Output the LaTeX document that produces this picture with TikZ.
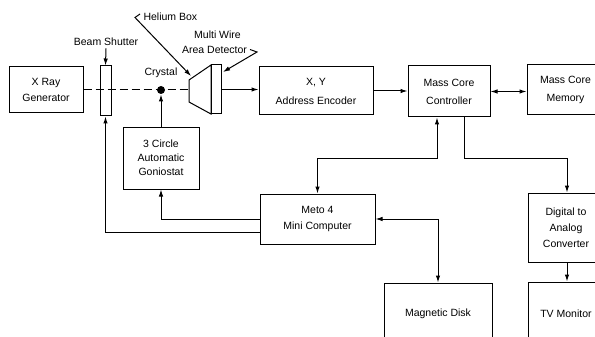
\documentclass[tikz,border=0pt]{standalone}
\usepackage{fontspec}
\setmainfont{Liberation Sans}
\usetikzlibrary{arrows.meta}
\begin{document}
\begin{tikzpicture}[x=1pt,y=-1pt,
  line width=1pt,
  box/.style={draw, rectangle, inner sep=0pt, align=center, font=\fontsize{10.5}{16}\selectfont},
  lbl/.style={inner sep=0pt, align=center, font=\fontsize{10.5}{15}\selectfont},
  arr/.style={-{Latex[length=7pt,width=4.5pt]}},
  darr/.style={{Latex[length=7pt,width=4.5pt]}-{Latex[length=7pt,width=4.5pt]}},
  beam/.style={dash pattern=on 8pt off 4pt}
]
\useasboundingbox (0,0) rectangle (595,337);
\clip (0,0) rectangle (595,337);

% boxes
\node[box, minimum width=74pt, minimum height=46pt] (xray) at (46,90) {X Ray\\Generator};
\node[box, minimum width=11pt, minimum height=50pt] (shutter) at (105.5,91) {};
\node[lbl] (shutterlbl) at (106,42) {Beam Shutter};
\node[circle, fill, inner sep=0pt, minimum size=8pt] (crystal) at (161,90) {};
\node[lbl] (crystallbl) at (161,73) {Crystal};
\node[box, minimum width=76pt, minimum height=62pt, font=\fontsize{10.5}{14}\selectfont] (gonio) at (161,158) {3 Circle\\Automatic\\Goniostat};

% helium box and detector
\coordinate (h1) at (189,80);
\coordinate (h2) at (211,65);
\coordinate (h3) at (211,114);
\coordinate (h4) at (189,102);
\coordinate (hmid) at (189,90);
\draw (h1) -- (h2) -- (h3) -- (h4) -- cycle;
\node[box, minimum width=10pt, minimum height=49pt] (det) at (216,89.5) {};

\node[lbl, anchor=west] (helbl) at (143,17) {Helium Box};
\coordinate (hs) at (140,14);
\coordinate (hapex) at (135,17.5);
\coordinate (htip) at (191,76);
\draw[arr] (hs) -- (hapex) -- (htip);

\node[lbl] (mw1) at (217.5,35) {Multi Wire};
\node[lbl] (mw2) at (214.5,49.5) {Area Detector};
\coordinate (ms) at (250,49.5);
\coordinate (mapex) at (257,52);
\coordinate (mtip) at (223,72);
\draw[arr] (ms) -- (mapex) -- (mtip);

\node[box, minimum width=114pt, minimum height=48pt, font=\fontsize{10.5}{19}\selectfont] (enc) at (316,91) {X, Y\\Address Encoder};
\node[box, minimum width=82pt, minimum height=51pt, font=\fontsize{10.5}{18}\selectfont] (ctrl) at (449,91.5) {Mass Core\\Controller};
\node[box, minimum width=77pt, minimum height=50pt, font=\fontsize{10.5}{18}\selectfont] (mem) at (565.5,90) {Mass Core\\Memory};
\node[box, minimum width=115pt, minimum height=50pt] (meto) at (317.5,219) {Meto 4\\Mini Computer};
\node[box, minimum width=108pt, minimum height=62pt] (disk) at (438,314) {Magnetic Disk};
\node[box, minimum width=76pt, minimum height=69pt] (dac) at (566,227.5) {Digital to\\Analog\\Converter};
\node[box, minimum width=76pt, minimum height=63pt] (tv) at (566,313.5) {TV Monitor};

% connectors
\draw[beam] (xray.east) -- (hmid);
\draw[arr] (shutterlbl.south) ++(0,-2pt) -- (shutter.north);
\draw[arr] (gonio.north) -- (crystal.south);
\draw[arr] (det.east) -- (det.east -| enc.west);
\draw[arr] (enc.east) -- (enc.east -| ctrl.west);
\draw[darr] (ctrl.east) -- (ctrl.east -| mem.west);
\draw[darr] ([xshift=-12pt]ctrl.south) -- ++(0,41) -| (meto.north);
\draw[arr] ([xshift=15pt]ctrl.south) -- ++(0,41) -| ([xshift=1pt]dac.north);
\draw[darr] (meto.east) -| (disk.north);
\draw[arr] ([xshift=1pt]dac.south) -- ([xshift=1pt]tv.north);
\draw[arr] (meto.west) -| (gonio.south);
\draw[arr] ([yshift=-13pt]meto.west) -| (shutter.south);
\end{tikzpicture}
\end{document}
